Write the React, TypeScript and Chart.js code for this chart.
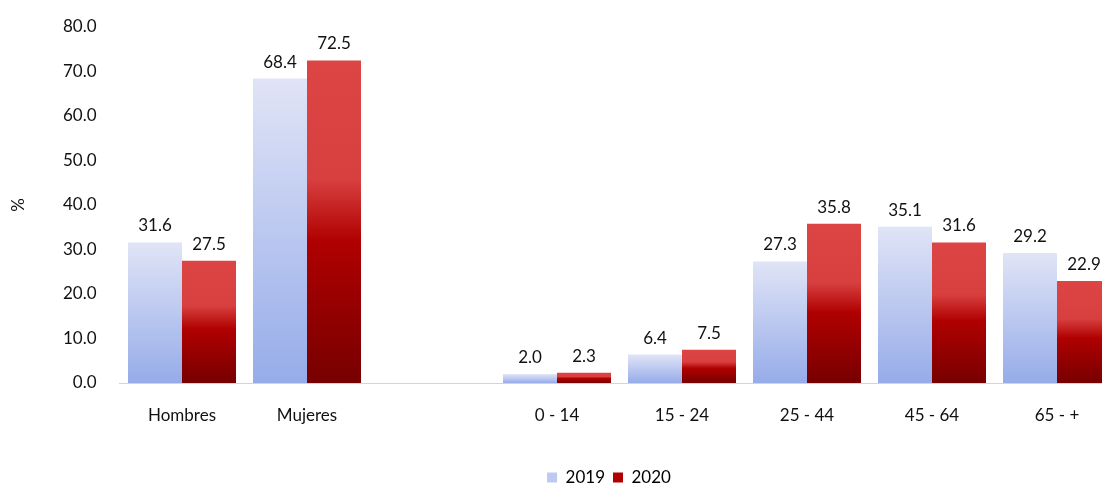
import React, { useEffect, useRef } from "react";
import { Chart, registerables } from "chart.js";

Chart.register(...registerables);

const categories = ["Hombres", "Mujeres", "", "0 - 14", "15 - 24", "25 - 44", "45 - 64", "65 - +"];
const series2019 = [31.6, 68.4, null, 2.0, 6.4, 27.3, 35.1, 29.2];
const series2020 = [27.5, 72.5, null, 2.3, 7.5, 35.8, 31.6, 22.9];
const seriesNames = ["2019", "2020"];

const FONT = "Lato";
const FS = 17;

function blueFill(ctx: any) {
  const chart = ctx.chart;
  if (ctx.type !== "data" || !chart.chartArea || ctx.raw == null) return "#bccaf0";
  const y = chart.scales.y;
  const top = y.getPixelForValue(ctx.raw);
  const bottom = y.getPixelForValue(0);
  if (!isFinite(top) || !isFinite(bottom) || bottom - top < 1) return "#bccaf0";
  const g = chart.ctx.createLinearGradient(0, top, 0, bottom);
  g.addColorStop(0, "#e0e4f6");
  g.addColorStop(1, "#96ace9");
  return g;
}

function redFill(ctx: any) {
  const chart = ctx.chart;
  if (ctx.type !== "data" || !chart.chartArea || ctx.raw == null) return "#b00000";
  const y = chart.scales.y;
  const top = y.getPixelForValue(ctx.raw);
  const bottom = y.getPixelForValue(0);
  if (!isFinite(top) || !isFinite(bottom) || bottom - top < 1) return "#b00000";
  const g = chart.ctx.createLinearGradient(0, top, 0, bottom);
  g.addColorStop(0, "#dd4545");
  g.addColorStop(0.37, "#d83f3f");
  g.addColorStop(0.56, "#b00000");
  g.addColorStop(1, "#770000");
  return g;
}

const valueLabels = {
  id: "valueLabels",
  afterDatasetsDraw(chart: any) {
    const c = chart.ctx;
    c.save();
    c.font = `${FS}px ${FONT}`;
    c.fillStyle = "#111";
    c.textAlign = "center";
    c.textBaseline = "bottom";
    chart.data.datasets.forEach((ds: any, di: number) => {
      const meta = chart.getDatasetMeta(di);
      meta.data.forEach((bar: any, i: number) => {
        const v = ds.data[i];
        if (v == null) return;
        c.fillText(v.toFixed(1), bar.x, bar.y - 8);
      });
    });
    c.restore();
  },
};

export default function App() {
  const ref = useRef<HTMLCanvasElement>(null);
  useEffect(() => {
    document.body.style.margin = "0";
    document.body.style.overflow = "hidden";
    const chart = new Chart(ref.current!, {
      type: "bar",
      data: {
        labels: categories,
        datasets: [
          { label: seriesNames[0], data: series2019, backgroundColor: blueFill as any },
          { label: seriesNames[1], data: series2020, backgroundColor: redFill as any },
        ],
      },
      options: {
        animation: false,
        responsive: false,
        maintainAspectRatio: false,
        datasets: { bar: { categoryPercentage: 0.864, barPercentage: 1.0 } },
        layout: { padding: { top: 27, bottom: 0, left: 0, right: 0 } },
        plugins: {
          tooltip: { enabled: false },
          legend: {
            position: "bottom",
            labels: {
              boxWidth: 10,
              boxHeight: 10,
              padding: 8,
              color: "#111",
              font: { family: FONT, size: FS },
              generateLabels: () => [
                { text: seriesNames[0], fillStyle: "#bccaf0", strokeStyle: "#bccaf0", lineWidth: 0, datasetIndex: 0 },
                { text: seriesNames[1], fillStyle: "#b00000", strokeStyle: "#b00000", lineWidth: 0, datasetIndex: 1 },
              ],
            },
          },
        },
        scales: {
          x: {
            grid: { display: false },
            border: { display: true, color: "#d4d4d4", width: 1 },
            ticks: { color: "#111", font: { family: FONT, size: FS }, padding: 14, maxRotation: 0 },
            afterFit: (s: any) => { s.height = 78; },
          },
          y: {
            min: 0,
            max: 80,
            grid: { display: false },
            border: { display: false },
            ticks: {
              stepSize: 10,
              padding: 15,
              color: "#111",
              font: { family: FONT, size: FS },
              callback: (v: any) => Number(v).toFixed(1),
            },
            title: { display: true, text: "%", color: "#111", font: { family: FONT, size: FS }, padding: { top: 8, bottom: 0 } },
            afterFit: (s: any) => { s.width = 119.5; },
          },
          yr: {
            position: "right",
            display: true,
            grid: { display: false },
            border: { display: false },
            ticks: { display: false },
            afterFit: (s: any) => { s.width = 98.5; },
          },
        },
      },
      plugins: [valueLabels],
    });
    return () => chart.destroy();
  }, []);
  return (
    <div style={{ width: 1102, height: 485, overflow: "hidden", position: "relative" }}>
      <canvas ref={ref} width={1218} height={496} style={{ position: "absolute", left: 0, top: 0 }} />
    </div>
  );
}
